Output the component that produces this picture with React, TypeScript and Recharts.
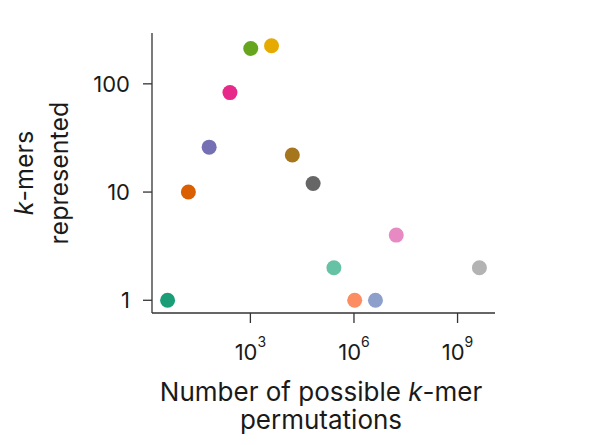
import { Cell, Scatter, ScatterChart, XAxis, YAxis } from "recharts";

// possible k-mer permutations (4^k) and how many k-mers are represented
const permutations = [
  4, 16, 64, 256, 1024, 4096, 16384, 65536, 262144, 1048576, 4194304, 16777216,
  4294967296,
];
const represented = [1, 10, 26, 83, 212, 225, 22, 12, 2, 1, 1, 4, 2];
const pointColors = [
  "#1b9e77",
  "#d95f02",
  "#7570b3",
  "#e7298a",
  "#66a61e",
  "#e6ab02",
  "#a6761d",
  "#666666",
  "#66c2a5",
  "#fc8d62",
  "#8da0cb",
  "#e78ac3",
  "#b3b3b3",
];
const xTicks = [1e3, 1e6, 1e9];
const yTicks = [1, 10, 100];

const data = permutations.map((x, i) => ({ x, y: represented[i] }));

const font = "Inter, 'Noto Sans', sans-serif";
const ink = "#1a1a1a";
const axisStroke = "#333333";

function XTick({ x, y, payload }: { x: number; y: number; payload: { value: number } }) {
  const exp = Math.round(Math.log10(payload.value));
  return (
    <text x={x} y={y + 35} textAnchor="middle" fontFamily={font} fill={ink}>
      <tspan fontSize={22}>10</tspan>
      <tspan fontSize={14} dy={-13}>
        {exp}
      </tspan>
    </text>
  );
}

function YTick({ x, y, payload }: { x: number; y: number; payload: { value: number } }) {
  return (
    <text x={x} y={y} dy="0.36em" textAnchor="end" fontFamily={font} fontSize={22} fill={ink}>
      {payload.value}
    </text>
  );
}

function Dot({ cx, cy, fill }: { cx?: number; cy?: number; fill?: string }) {
  if (cx == null || cy == null) return null;
  return <circle cx={cx} cy={cy} r={7.5} fill={fill} />;
}

export default function App() {
  return (
    <div style={{ position: "fixed", left: 0, top: 0, width: 613, height: 445, background: "#fff" }}>
      <ScatterChart width={613} height={445} margin={{ top: 33, right: 118, bottom: 0, left: 0 }}>
        <XAxis
          type="number"
          dataKey="x"
          scale="log"
          domain={[Math.pow(10, 0.1505), Math.pow(10, 10.0845)]}
          allowDataOverflow
          ticks={xTicks}
          height={132}
          tickSize={10}
          tick={XTick}
          stroke={axisStroke}
          strokeWidth={1.3}
        />
        <YAxis
          type="number"
          dataKey="y"
          scale="log"
          domain={[Math.pow(10, -0.1176), Math.pow(10, 2.4698)]}
          allowDataOverflow
          ticks={yTicks}
          width={152}
          tickSize={9}
          tickMargin={13}
          tick={YTick}
          stroke={axisStroke}
          strokeWidth={1.3}
        />
        <Scatter data={data} shape={Dot} isAnimationActive={false}>
          {data.map((_, i) => (
            <Cell key={i} fill={pointColors[i]} />
          ))}
        </Scatter>
        <text x={321} y={401} textAnchor="middle" fontFamily={font} fontSize={26} fill={ink}>
          <tspan>Number of possible </tspan>
          <tspan fontStyle="italic">k</tspan>
          <tspan>-mer</tspan>
        </text>
        <text x={321} y={429} textAnchor="middle" fontFamily={font} fontSize={26} fill={ink}>
          permutations
        </text>
        <text
          transform="translate(33,173) rotate(-90)"
          textAnchor="middle"
          fontFamily={font}
          fontSize={25}
          fill={ink}
        >
          <tspan fontStyle="italic">k</tspan>
          <tspan>-mers</tspan>
        </text>
        <text
          transform="translate(68,173) rotate(-90)"
          textAnchor="middle"
          fontFamily={font}
          fontSize={25}
          fill={ink}
        >
          represented
        </text>
      </ScatterChart>
    </div>
  );
}
